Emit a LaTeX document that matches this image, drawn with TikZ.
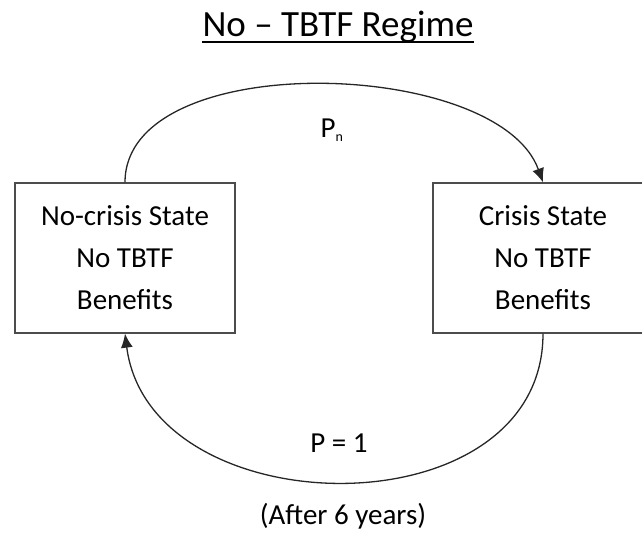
\documentclass[tikz,border=0pt]{standalone}
\usepackage{fontspec}
\setmainfont{Carlito}
\usetikzlibrary{arrows.meta}
\tikzset{
  statebox/.style={draw=black!70, line width=1.3pt, minimum width=220pt, minimum height=150pt, inner sep=0pt, align=center, font=\fontsize{29}{42}\selectfont},
  lbl/.style={inner sep=0pt, font=\fontsize{29}{35}\selectfont},
  conn/.style={draw=black!85, line width=1.3pt, -{Latex[length=14pt,width=12pt]}},
}
\begin{document}
\begin{tikzpicture}[x=1pt,y=-1pt]
\useasboundingbox (0,0) rectangle (642,534);
\node[inner sep=0pt, anchor=base, font=\fontsize{37}{40}\selectfont] (title) at (338,37) {No – TBTF Regime};
\draw[line width=1.3pt] ([yshift=-5pt]title.base west) -- ([yshift=-5pt]title.base east);
\node[statebox] (L) at (125,258) {No-crisis State\\No TBTF\\Benefits};
\node[statebox] (R) at (543,258) {Crisis State\\No TBTF\\Benefits};
\draw[conn] (L.north) .. controls +(0,-135) and +(-45,-125) .. (R.north);
\draw[conn] (R.south) .. controls +(0,200) and +(25,195) .. (L.south);
\node[lbl] (pn) at (332,130) {P\textsubscript{\fontsize{14}{16}\selectfont n}};
\node[lbl] (p1) at (339,443) {P = 1};
\node[lbl] (after) at (343,516) {(After 6 years)};
\end{tikzpicture}
\end{document}
